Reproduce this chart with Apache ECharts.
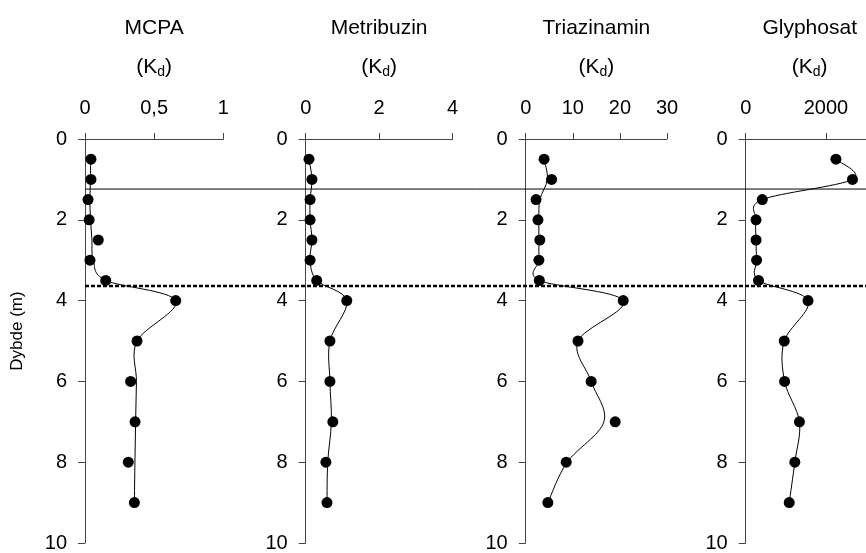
<!DOCTYPE html>
<html>
<head>
<meta charset="utf-8">
<script src="https://cdn.jsdelivr.net/npm/echarts@6/dist/echarts.min.js"></script>
<style>
html, body { margin: 0; padding: 0; background: #fff; }
#chart { width: 866px; height: 553px; }
</style>
</head>
<body>
<div id="chart"></div>
<script>
// Sampling depths (m) shared by all four profiles
const depths = [0.5, 1, 1.5, 2, 2.5, 3, 3.5, 4, 5, 6, 7, 8, 9];

const panelNames = ['MCPA', 'Metribuzin', 'Triazinamin', 'Glyphosat'];

// Measured Kd values per depth
const mcpaKd        = [0.043, 0.043, 0.022, 0.030, 0.096, 0.036, 0.150, 0.656, 0.376, 0.330, 0.362, 0.313, 0.357];
const metribuzinKd  = [0.09, 0.17, 0.12, 0.12, 0.17, 0.12, 0.30, 1.12, 0.66, 0.66, 0.74, 0.55, 0.58];
const triazinaminKd = [3.9, 5.5, 2.2, 2.6, 3.0, 2.8, 2.9, 20.7, 11.1, 13.9, 19.0, 8.6, 4.7];
const glyphosatKd   = [2250, 2663, 413, 258, 258, 272, 319, 1554, 961, 970, 1340, 1225, 1085];

// Smoothed trend curves drawn through the profiles
const mcpaFit        = [0.040, 0.040, 0.035, 0.040, 0.050, 0.060, 0.150, 0.656, 0.376, 0.372, 0.366, 0.361, 0.357];
const metribuzinFit  = [0.09, 0.17, 0.12, 0.12, 0.17, 0.12, 0.30, 1.12, 0.66, 0.66, 0.70, 0.60, 0.58];
const triazinaminFit = [3.9, 4.6, 3.0, 2.8, 2.8, 2.8, 2.9, 20.7, 11.1, 13.9, 16.6, 8.8, 4.7];
const glyphosatFit   = [2250, 2663, 413, 258, 258, 272, 319, 1554, 961, 970, 1340, 1225, 1085];

// Top axis scales
const axisMax      = [1, 4, 30, 3000];
const axisInterval = [0.5, 2, 10, 2000];

// Depth axis
const depthMin = 0, depthMax = 10, depthStep = 2;

// Horizontal boundary depths (m)
const solidBoundary  = 1.23;
const dottedBoundary = 3.61;

const measured = [mcpaKd, metribuzinKd, triazinaminKd, glyphosatKd];
const fitted   = [mcpaFit, metribuzinFit, triazinaminFit, glyphosatFit];

// Panel layout (px)
const panelLeft  = [85, 305.7, 525.7, 745.7];
const panelWidth = [138.3, 146.8, 141.3, 128];
const plotTop = 139, plotHeight = 407;

const FONT = 'Liberation Sans, Arial, sans-serif';
const AXIS_COLOR = '#444';
const fmt = v => String(v).replace('.', ',');

// Cardinal-spline trend line: each item draws the Bezier segment from knot k to k+1,
// with control arms taken from the neighbouring knots in screen space.
function trendSeries(i) {
  const pts = depths.map((d, k) => [fitted[i][k], d]);
  const last = pts.length - 1;
  return {
    type: 'custom', xAxisIndex: i, yAxisIndex: i,
    data: pts, encode: { x: 0, y: 1 },
    clip: false, silent: true, animation: false, z: 2,
    renderItem: (params, api) => {
      const k = params.dataIndex;
      if (k >= last) return null;
      const P = j => api.coord(pts[Math.max(0, Math.min(last, j))]);
      const p0 = P(k - 1), p1 = P(k), p2 = P(k + 1), p3 = P(k + 2);
      const t = 1 / 6;
      return {
        type: 'bezierCurve',
        shape: {
          x1: p1[0], y1: p1[1], x2: p2[0], y2: p2[1],
          cpx1: p1[0] + (p2[0] - p0[0]) * t, cpy1: p1[1] + (p2[1] - p0[1]) * t,
          cpx2: p2[0] - (p3[0] - p1[0]) * t, cpy2: p2[1] - (p3[1] - p1[1]) * t
        },
        style: { stroke: '#000', fill: 'none', lineWidth: 1 }
      };
    }
  };
}

const grid = [], xAxis = [], yAxis = [], series = [], graphic = [];

panelNames.forEach((name, i) => {
  grid.push({ left: panelLeft[i], top: plotTop, width: panelWidth[i], height: plotHeight });
  xAxis.push({
    gridIndex: i, type: 'value', position: 'top',
    min: 0, max: axisMax[i], interval: axisInterval[i],
    splitLine: { show: false },
    axisLine: { show: true, lineStyle: { color: AXIS_COLOR, width: 1 } },
    axisTick: { show: true, inside: false, length: 6, lineStyle: { color: AXIS_COLOR } },
    axisLabel: { color: '#000', fontSize: 20, fontFamily: FONT, margin: 21, formatter: fmt,
                 showMaxLabel: i !== 3 }
  });
  yAxis.push({
    gridIndex: i, type: 'value', inverse: true,
    min: depthMin, max: depthMax, interval: depthStep,
    splitLine: { show: false },
    axisLine: { show: true, lineStyle: { color: AXIS_COLOR, width: 1 } },
    axisTick: { show: true, inside: false, length: 7, lineStyle: { color: AXIS_COLOR } },
    axisLabel: { color: '#000', fontSize: 20, fontFamily: FONT, margin: 18 }
  });
  series.push(trendSeries(i));
  series.push({
    type: 'scatter', xAxisIndex: i, yAxisIndex: i,
    data: depths.map((d, k) => [measured[i][k], d]),
    symbol: 'circle', symbolSize: 11,
    itemStyle: { color: '#000', borderWidth: 0, opacity: 1 },
    silent: true, animation: false, z: 3
  });

  const cx = panelLeft[i] + panelWidth[i] / 2;
  graphic.push({
    type: 'text', x: cx, y: 28,
    style: { text: name, font: '21px ' + FONT, fill: '#000', align: 'center', verticalAlign: 'middle' }
  });
  graphic.push({
    type: 'text', x: cx, y: 67,
    style: {
      text: '(K{sub|d})', font: '21px ' + FONT, fill: '#000',
      align: 'center', verticalAlign: 'middle', lineHeight: 24,
      rich: { sub: { fontSize: 14, fontFamily: FONT, lineHeight: 14, verticalAlign: 'bottom', fill: '#000' } }
    }
  });
});

// Overlay spanning all panels for the boundary lines
const ov = panelNames.length;
grid.push({ left: panelLeft[0], top: plotTop, right: 0, height: plotHeight });
xAxis.push({ gridIndex: ov, type: 'value', min: 0, max: 1, show: false });
yAxis.push({ gridIndex: ov, type: 'value', inverse: true, min: depthMin, max: depthMax, show: false });
series.push({
  type: 'line', xAxisIndex: ov, yAxisIndex: ov,
  data: [[0, solidBoundary], [1, solidBoundary]],
  symbol: 'none', lineStyle: { color: '#000', width: 1 }, silent: true, animation: false, z: 1
});
series.push({
  type: 'line', xAxisIndex: ov, yAxisIndex: ov,
  data: [[0, dottedBoundary], [1, dottedBoundary]],
  symbol: 'none', lineStyle: { color: '#000', width: 2.5, type: [4, 2] }, silent: true, animation: false, z: 1
});

graphic.push({
  type: 'text', x: 17, y: 331, rotation: Math.PI / 2,
  style: { text: 'Dybde (m)', font: '17px ' + FONT, fill: '#000', align: 'center', verticalAlign: 'middle' }
});

const chart = echarts.init(document.getElementById('chart'), null, { renderer: 'canvas' });
chart.setOption({
  backgroundColor: '#fff',
  animation: false,
  grid, xAxis, yAxis, series, graphic
});
</script>
</body>
</html>
